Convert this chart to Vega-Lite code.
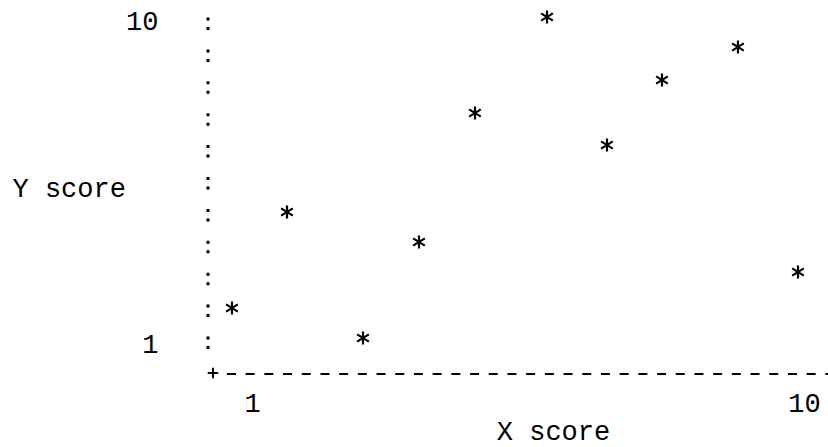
{
  "$schema": "https://vega.github.io/schema/vega-lite/v6.json",
  "autosize": "none",
  "width": 620,
  "height": 357,
  "padding": {"left": 208, "top": 17, "right": 0, "bottom": 73},
  "background": "white",
  "config": {
    "view": {"stroke": null},
    "font": "Liberation Mono",
    "axis": {"labelFont": "Liberation Mono", "titleFont": "Liberation Mono", "labelColor": "black", "titleColor": "black", "labelFontSize": 27, "titleFontSize": 27, "titleFontWeight": "normal", "grid": false, "domain": false, "ticks": false, "tickSize": 0}
  },
  "layer": [
    {
      "data": {"values": [
        {"X": 0.674, "Y": 2.006},
        {"X": 1.571, "Y": 4.689},
        {"X": 2.810, "Y": 1.168},
        {"X": 3.723, "Y": 3.851},
        {"X": 4.636, "Y": 7.456},
        {"X": 5.810, "Y": 10.139},
        {"X": 6.788, "Y": 6.562},
        {"X": 7.685, "Y": 8.378},
        {"X": 8.924, "Y": 9.301},
        {"X": 9.903, "Y": 3.012}
      ]},
      "mark": {"type": "point", "shape": "M0,-1L0,1M-0.9,-0.55L0.9,0.55M-0.9,0.55L0.9,-0.55", "filled": false, "stroke": "black", "strokeWidth": 2.2, "size": 170, "opacity": 1},
      "encoding": {
        "x": {"field": "X", "type": "quantitative", "scale": {"domain": [0.283, 10.392], "nice": false, "zero": false},
          "axis": {"values": [1, 10], "format": "d", "title": "X score", "labelPadding": 16, "titleX": 345, "titleY": 57, "titleAlign": "center", "titleBaseline": "middle", "labelFlush": false}},
        "y": {"field": "Y", "type": "quantitative", "scale": {"domain": [0.1616, 10.139], "nice": false, "zero": false},
          "axis": {"values": [1, 10], "format": "d", "title": "Y score", "labelPadding": 50, "titleAngle": 0, "titleX": -196, "titleY": 171, "titleAlign": "left", "titleBaseline": "middle", "labelFlush": false}}
      }
    },
    {
      "data": {"values": [{"xv": 0.283, "ytop": 10.125, "ybot": 0.832}]},
      "mark": {"type": "rule", "color": "black", "strokeWidth": 3, "strokeDash": [3, 6.5, 3, 19.4]},
      "encoding": {
        "x": {"field": "xv", "type": "quantitative"},
        "y": {"field": "ytop", "type": "quantitative"},
        "y2": {"field": "ybot"}
      }
    },
    {
      "data": {"values": [{"xa": 0.592, "xb": 10.392, "yv": 0.1616}]},
      "mark": {"type": "rule", "color": "black", "strokeWidth": 1.8, "strokeDash": [9, 9.7]},
      "encoding": {
        "x": {"field": "xa", "type": "quantitative"},
        "x2": {"field": "xb"},
        "y": {"field": "yv", "type": "quantitative"}
      }
    },
    {
      "data": {"values": [{"xp": 0.364, "yp": 0.19}]},
      "mark": {"type": "point", "shape": "M-1,0L1,0M0,-1L0,1", "filled": false, "stroke": "black", "strokeWidth": 2, "size": 110, "opacity": 1},
      "encoding": {
        "x": {"field": "xp", "type": "quantitative"},
        "y": {"field": "yp", "type": "quantitative"}
      }
    }
  ]
}
